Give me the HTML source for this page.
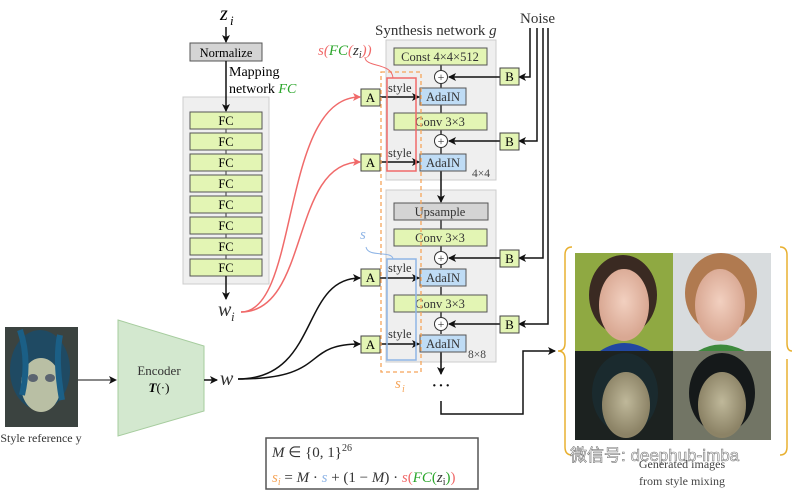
<!DOCTYPE html>
<html><head><meta charset="utf-8"><style>
html,body{margin:0;padding:0;background:#fff;}
svg{display:block;font-family:"Liberation Serif",serif;}
</style></head><body>
<svg width="792" height="491" viewBox="0 0 792 491" xmlns="http://www.w3.org/2000/svg">
<defs>
<marker id="ah" markerWidth="8" markerHeight="8" refX="7" refY="4" orient="auto" markerUnits="userSpaceOnUse"><path d="M0,0 L8,4 L0,8 L2,4 Z" fill="#111"/></marker>
<marker id="ahr" markerWidth="8" markerHeight="8" refX="7" refY="4" orient="auto" markerUnits="userSpaceOnUse"><path d="M0,0 L8,4 L0,8 L2,4 Z" fill="#f06a6a"/></marker>
<radialGradient id="fc1" cx="50%" cy="45%" r="50%"><stop offset="0" stop-color="#f2d0c0"/><stop offset="1" stop-color="#d9a893"/></radialGradient>
<radialGradient id="fc2" cx="50%" cy="45%" r="50%"><stop offset="0" stop-color="#bfb89a"/><stop offset="1" stop-color="#8c8366"/></radialGradient>
</defs>

<!-- mapping network -->
<text x="220" y="20" font-size="20" font-style="italic">z</text><text x="230" y="25" font-size="13" font-style="italic">i</text>
<line x1="226" y1="27" x2="226" y2="42" stroke="#111" stroke-width="1.5" marker-end="url(#ah)"/>
<rect x="190" y="43" width="72" height="18" fill="#d4d4d4" stroke="#555"/>
<text x="226" y="57" font-size="12.5" text-anchor="middle">Normalize</text>
<text x="229" y="76" font-size="14">Mapping</text>
<text x="229" y="93" font-size="14">network <tspan fill="#2aa52a" font-style="italic">FC</tspan></text>
<rect x="183" y="97" width="86" height="187" fill="#efefef" stroke="#ccc"/>
<line x1="226" y1="61" x2="226" y2="111" stroke="#111" stroke-width="1.5" marker-end="url(#ah)"/>
<line x1="226" y1="129" x2="226" y2="259" stroke="#333"/>
<g fill="#e3f5b4" stroke="#555">
<rect x="190" y="112" width="72" height="17"/><rect x="190" y="133" width="72" height="17"/>
<rect x="190" y="154" width="72" height="17"/><rect x="190" y="175" width="72" height="17"/>
<rect x="190" y="196" width="72" height="17"/><rect x="190" y="217" width="72" height="17"/>
<rect x="190" y="238" width="72" height="17"/><rect x="190" y="259" width="72" height="17"/>
</g>
<g font-size="12.5" text-anchor="middle">
<text x="226" y="125">FC</text><text x="226" y="146">FC</text><text x="226" y="167">FC</text><text x="226" y="188">FC</text>
<text x="226" y="209">FC</text><text x="226" y="230">FC</text><text x="226" y="251">FC</text><text x="226" y="272">FC</text>
</g>
<line x1="226" y1="276" x2="226" y2="299" stroke="#111" stroke-width="1.5" marker-end="url(#ah)"/>
<text x="218" y="316" font-size="20" font-style="italic" fill="#333">w</text><text x="231" y="321" font-size="13" font-style="italic" fill="#333">i</text>

<!-- red curves -->
<path d="M241,312 C300,312 280,97 360,97" fill="none" stroke="#f06a6a" stroke-width="1.5" marker-end="url(#ahr)"/>
<path d="M241,312 C310,312 290,162 360,162" fill="none" stroke="#f06a6a" stroke-width="1.5" marker-end="url(#ahr)"/>

<!-- encoder -->
<rect x="5" y="327" width="73" height="100" fill="#3b4340"/>
<ellipse cx="40" cy="370" rx="30" ry="40" fill="#1f4a63"/>
<ellipse cx="41" cy="385" rx="20" ry="27" fill="#b9bfa4"/>
<ellipse cx="33" cy="378" rx="5" ry="4" fill="#5b6470"/><ellipse cx="50" cy="378" rx="5" ry="4" fill="#5b6470"/>
<path d="M20,330 Q30,360 22,395 M60,335 Q55,360 62,400" stroke="#1b5f86" stroke-width="6" fill="none"/>
<text x="41" y="442" font-size="12" text-anchor="middle" fill="#333">Style reference y</text>
<line x1="78" y1="380" x2="116" y2="380" stroke="#111" stroke-width="1" marker-end="url(#ah)"/>
<polygon points="118,320 204,346 204,411 118,436" fill="#d3e8cf" stroke="#a6cc9e"/>
<text x="159" y="375" font-size="13" text-anchor="middle" fill="#333">Encoder</text>
<text x="159" y="392" font-size="13" text-anchor="middle" font-weight="bold" font-style="italic">T<tspan font-weight="normal" font-style="normal">(·)</tspan></text>
<line x1="204" y1="380" x2="217" y2="380" stroke="#111" stroke-width="1.5" marker-end="url(#ah)"/>
<text x="220" y="385" font-size="20" font-style="italic" fill="#333">w</text>
<path d="M238,379 C320,379 300,278 360,278" fill="none" stroke="#111" stroke-width="1.5" marker-end="url(#ah)"/>
<path d="M238,379 C330,379 300,344 360,344" fill="none" stroke="#111" stroke-width="1.5" marker-end="url(#ah)"/>

<!-- synthesis -->
<text x="375" y="35" font-size="15" fill="#333">Synthesis network <tspan font-style="italic">g</tspan></text>
<text x="520" y="23" font-size="15" fill="#333">Noise</text>
<rect x="386" y="40" width="110" height="140" fill="#efefef" stroke="#ccc"/>
<rect x="386" y="190" width="110" height="172" fill="#efefef" stroke="#ccc"/>
<!-- noise lines -->
<g stroke="#111" stroke-width="1.5" fill="none">
<path d="M530,28 V77 H519" marker-end="url(#ah)"/>
<path d="M537,28 V141 H519" marker-end="url(#ah)"/>
<path d="M543,28 V258 H519" marker-end="url(#ah)"/>
<path d="M548,28 V324 H519" marker-end="url(#ah)"/>
</g>
<!-- vertical chain -->
<g stroke="#333" stroke-width="1.5">
<line x1="441" y1="65" x2="441" y2="88"/><line x1="441" y1="105" x2="441" y2="154"/>
<line x1="441" y1="220" x2="441" y2="268"/><line x1="441" y1="287" x2="441" y2="334"/>
</g>
<line x1="441" y1="171" x2="441" y2="202" stroke="#111" stroke-width="1.5" marker-end="url(#ah)"/>
<line x1="441" y1="352" x2="441" y2="374" stroke="#111" stroke-width="1.5" marker-end="url(#ah)"/>
<!-- B boxes & arrows to plus -->
<g stroke="#111" stroke-width="1.5">
<line x1="500" y1="77" x2="449" y2="77" marker-end="url(#ah)"/>
<line x1="500" y1="141" x2="449" y2="141" marker-end="url(#ah)"/>
<line x1="500" y1="258" x2="449" y2="258" marker-end="url(#ah)"/>
<line x1="500" y1="324" x2="449" y2="324" marker-end="url(#ah)"/>
</g>
<g fill="#e3f5b4" stroke="#444">
<rect x="500" y="68" width="19" height="17"/><rect x="500" y="133" width="19" height="17"/>
<rect x="500" y="250" width="19" height="17"/><rect x="500" y="316" width="19" height="17"/>
</g>
<g font-size="13" text-anchor="middle"><text x="509.5" y="81">B</text><text x="509.5" y="146">B</text><text x="509.5" y="263">B</text><text x="509.5" y="329">B</text></g>
<!-- boxes -->
<g fill="#e3f5b4" stroke="#555">
<rect x="394" y="48" width="93" height="17"/><rect x="394" y="113" width="93" height="17"/>
<rect x="394" y="229" width="93" height="17"/><rect x="394" y="295" width="93" height="17"/>
</g>
<rect x="394" y="203" width="94" height="17" fill="#d4d4d4" stroke="#555"/>
<g font-size="12.5" text-anchor="middle" fill="#333">
<text x="440" y="61">Const 4×4×512</text><text x="440" y="126">Conv 3×3</text>
<text x="440" y="216">Upsample</text><text x="440" y="242">Conv 3×3</text><text x="440" y="308">Conv 3×3</text>
</g>
<g fill="#bfdcf5" stroke="#555">
<rect x="420" y="88" width="46" height="17"/><rect x="420" y="154" width="46" height="17"/>
<rect x="420" y="269" width="46" height="17"/><rect x="420" y="335" width="46" height="17"/>
</g>
<g font-size="12.5" text-anchor="middle" fill="#333">
<text x="443" y="101">AdaIN</text><text x="443" y="167">AdaIN</text><text x="443" y="282">AdaIN</text><text x="443" y="348">AdaIN</text>
</g>
<g fill="#fff" stroke="#333">
<circle cx="441" cy="77" r="6.5"/><circle cx="441" cy="141" r="6.5"/><circle cx="441" cy="258" r="6.5"/><circle cx="441" cy="324" r="6.5"/>
</g>
<g font-size="12" text-anchor="middle" fill="#333">
<text x="441" y="81">+</text><text x="441" y="145">+</text><text x="441" y="262">+</text><text x="441" y="328">+</text>
</g>
<text x="472" y="177" font-size="11.5" fill="#444">4×4</text>
<text x="468" y="358" font-size="11.5" fill="#444">8×8</text>
<!-- A boxes and style arrows -->
<g stroke="#111" stroke-width="1.5">
<line x1="380" y1="97" x2="419" y2="97" marker-end="url(#ah)"/>
<line x1="380" y1="162" x2="419" y2="162" marker-end="url(#ah)"/>
<line x1="380" y1="278" x2="419" y2="278" marker-end="url(#ah)"/>
<line x1="380" y1="344" x2="419" y2="344" marker-end="url(#ah)"/>
</g>
<g fill="#e3f5b4" stroke="#444">
<rect x="361" y="89" width="19" height="17"/><rect x="361" y="154" width="19" height="17"/>
<rect x="361" y="269" width="19" height="17"/><rect x="361" y="336" width="19" height="17"/>
</g>
<g font-size="13" text-anchor="middle"><text x="370.5" y="102">A</text><text x="370.5" y="167">A</text><text x="370.5" y="282">A</text><text x="370.5" y="349">A</text></g>
<g font-size="12.5" fill="#333">
<text x="388" y="92">style</text><text x="388" y="157">style</text><text x="388" y="272">style</text><text x="388" y="338">style</text>
</g>
<!-- style groupings -->
<rect x="381" y="72" width="40" height="300" fill="none" stroke="#f5a55a" stroke-width="1.3" stroke-dasharray="4,3"/>
<rect x="387" y="78" width="29" height="93" fill="none" stroke="#f06a6a" stroke-width="1.5"/>
<rect x="387" y="259" width="29" height="101" fill="none" stroke="#8fb5e6" stroke-width="1.5"/>
<path d="M365,57 C365,68 392,62 393,78" fill="none" stroke="#f06a6a" stroke-width="1"/>
<path d="M366,247 C368,258 392,250 393,259" fill="none" stroke="#8fb5e6" stroke-width="1"/>
<text x="318" y="55" font-size="15" font-style="italic" fill="#f06a6a">s(<tspan fill="#2aa52a">FC</tspan>(<tspan fill="#333">z</tspan><tspan fill="#333" font-size="10" dy="3">i</tspan><tspan dy="-3">))</tspan></text>
<text x="360" y="239" font-size="15" font-style="italic" fill="#8fb5e6">s</text>
<text x="395" y="388" font-size="15" font-style="italic" fill="#f5a55a">s</text><text x="402" y="392" font-size="10" font-style="italic" fill="#f5a55a">i</text>
<text x="441" y="392" font-size="20" text-anchor="middle" fill="#111">···</text>
<path d="M441,401 V414 H523 V351 H555" fill="none" stroke="#111" stroke-width="1.5" marker-end="url(#ah)"/>

<!-- formula box -->
<rect x="266" y="438" width="212" height="51" fill="#fff" stroke="#555" stroke-width="1.5"/>
<text x="272" y="457" font-size="15" fill="#333"><tspan font-style="italic">M</tspan> ∈ {0, 1}<tspan font-size="10" dy="-6">26</tspan></text>
<text x="272" y="482" font-size="15" fill="#333"><tspan font-style="italic" fill="#f5a55a">s</tspan><tspan font-style="italic" fill="#f5a55a" font-size="10" dy="3">i</tspan><tspan dy="-3"> = </tspan><tspan font-style="italic">M</tspan> · <tspan font-style="italic" fill="#8fb5e6">s</tspan> + (1 − <tspan font-style="italic">M</tspan>) · <tspan font-style="italic" fill="#f06a6a">s</tspan><tspan fill="#f06a6a">(</tspan><tspan fill="#2aa52a" font-style="italic">FC</tspan><tspan fill="#2aa52a">(</tspan><tspan font-style="italic">z</tspan><tspan font-size="10" dy="3">i</tspan><tspan dy="-3" fill="#2aa52a">)</tspan><tspan fill="#f06a6a">)</tspan></text>

<!-- generated images -->
<path d="M572,247 Q565,247 565,255 V343 Q565,351 558,351 Q565,351 565,359 V447 Q565,455 572,455" fill="none" stroke="#e8b030" stroke-width="1.5"/>
<path d="M780,247 Q787,247 787,255 V343 Q787,351 792,351 M787,359 V447 Q787,455 780,455" fill="none" stroke="#e8b030" stroke-width="1.5"/>
<rect x="575" y="253" width="98" height="98" fill="#8fa942"/>
<rect x="673" y="253" width="98" height="98" fill="#d8dcde"/>
<rect x="575" y="351" width="98" height="89" fill="#1c2220"/>
<rect x="673" y="351" width="98" height="89" fill="#727565"/>
<ellipse cx="623" cy="295" rx="34" ry="40" fill="#3a2a22"/>
<ellipse cx="624" cy="305" rx="25" ry="36" fill="url(#fc1)"/>
<path d="M600,351 Q624,335 650,351 Z" fill="#2147a0"/>
<ellipse cx="721" cy="293" rx="36" ry="40" fill="#b07a50"/>
<ellipse cx="720" cy="305" rx="25" ry="36" fill="url(#fc1)"/>
<path d="M698,351 Q720,338 745,351 Z" fill="#3d8a3d"/>
<ellipse cx="625" cy="393" rx="33" ry="40" fill="#1a2a2e"/>
<ellipse cx="626" cy="405" rx="24" ry="33" fill="url(#fc2)"/>
<ellipse cx="722" cy="393" rx="33" ry="40" fill="#15191a"/>
<ellipse cx="722" cy="405" rx="24" ry="33" fill="url(#fc2)"/>
<text x="570" y="461" font-size="17" fill="#fff" stroke="#777" stroke-width="0.6" font-family="'Liberation Sans','Noto Sans CJK SC',sans-serif">微信号: deephub-imba</text>
<text x="682" y="468" font-size="12" text-anchor="middle" fill="#444">Generated images</text>
<text x="682" y="485" font-size="12" text-anchor="middle" fill="#444">from style mixing</text>
</svg>
</body></html>
